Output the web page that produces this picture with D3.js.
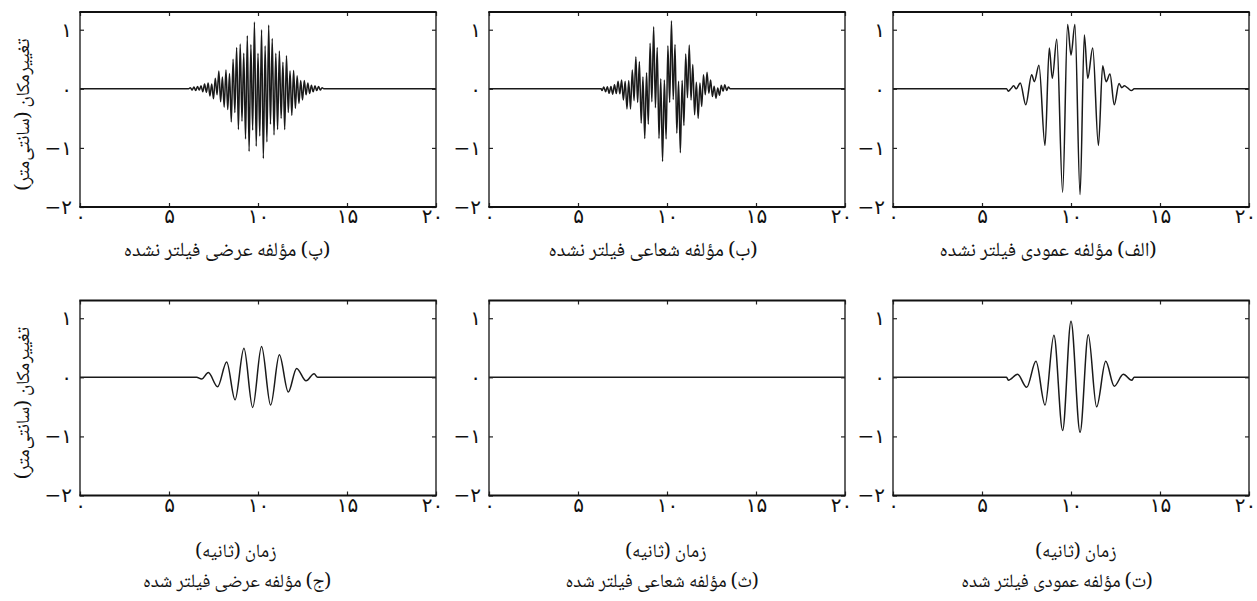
<!DOCTYPE html>
<html><head><meta charset="utf-8">
<script src="https://cdn.jsdelivr.net/npm/d3@7"></script>
<style>
body{margin:0;background:#fff;}
svg text{fill:#111;}
</style></head><body>
<svg id="c" width="1257" height="601"></svg>
<script>
// ---------- data ----------
const xTicks = [0, 5, 10, 15, 20];
const yTicks = [-2, -1, 0, 1];
const yLabel = "تغییرمکان (سانتی‌متر)";
const xLabel = "زمان (ثانیه)";
const titlesTop = ["(پ) مؤلفه عرضی فیلتر نشده", "(ب) مؤلفه شعاعی فیلتر نشده", "(الف) مؤلفه عمودی فیلتر نشده"];
const titlesBottom = ["(ج) مؤلفه عرضی فیلتر شده", "(ث) مؤلفه شعاعی فیلتر شده", "(ت) مؤلفه عمودی فیلتر شده"];

// (الف) vertical, unfiltered
const alefT = [0, 6.38, 6.48, 6.62, 6.78, 6.92, 7.15, 7.46, 7.79, 7.94, 8.2, 8.54, 8.78, 8.95, 9.2, 9.53, 9.81, 10.0, 10.22, 10.51, 10.75, 10.94, 11.22, 11.54, 11.78, 11.97, 12.19, 12.43, 12.7, 12.85, 13.0, 13.2, 13.4, 13.55, 20];
const alefV = [0, 0, -0.04, 0.0, 0.05, 0.0, 0.1, -0.27, 0.24, 0.12, 0.4, -0.96, 0.69, 0.18, 0.84, -1.75, 1.09, 0.57, 1.09, -1.79, 0.91, 0.18, 0.69, -0.96, 0.39, 0.12, 0.25, -0.27, 0.09, 0.02, 0.05, 0.01, -0.03, 0, 0];

// (ب) radial, unfiltered
const beT = [0, 6.3, 6.35, 6.45, 6.55, 6.65, 6.75, 6.85, 6.95, 7.05, 7.15, 7.25, 7.35, 7.45, 7.55, 7.65, 7.75, 7.85, 7.95, 8.05, 8.15, 8.25, 8.35, 8.45, 8.55, 8.65, 8.75, 8.85, 8.95, 9.05, 9.15, 9.25, 9.35, 9.45, 9.55, 9.65, 9.75, 9.85, 9.95, 10.05, 10.15, 10.25, 10.35, 10.45, 10.55, 10.65, 10.75, 10.85, 10.95, 11.05, 11.15, 11.25, 11.35, 11.45, 11.55, 11.65, 11.75, 11.85, 11.95, 12.05, 12.15, 12.25, 12.35, 12.45, 12.55, 12.65, 12.75, 12.85, 12.95, 13.05, 13.15, 13.25, 13.35, 13.45, 13.55, 20];
const beV = [0, 0, -0.03, 0.03, -0.05, 0.035, -0.075, 0.04, -0.09, 0.07, -0.08, 0.13, -0.085, 0.15, -0.19, 0.13, -0.34, 0.14, -0.34, 0.32, -0.2, 0.54, -0.23, 0.46, -0.58, 0.2, -0.84, 0.27, -0.6, 0.77, -0.22, 1.05, -0.32, 0.7, -0.84, 0.17, -1.23, 0.15, -0.85, 0.73, -0.23, 1.15, -0.18, 0.75, -0.75, 0.13, -1.08, 0.14, -0.62, 0.59, -0.15, 0.74, -0.19, 0.41, -0.44, 0.11, -0.5, 0.1, -0.3, 0.24, -0.1, 0.28, -0.075, 0.15, -0.13, 0.045, -0.16, 0.015, -0.11, 0.06, -0.04, 0.07, -0.03, 0.03, 0, 0];

// (پ) transverse, unfiltered
const peT = [0, 6.1, 6.2, 6.3, 6.4, 6.5, 6.6, 6.7, 6.8, 6.9, 7.0, 7.1, 7.2, 7.3, 7.4, 7.5, 7.6, 7.7, 7.8, 7.9, 8.0, 8.1, 8.2, 8.3, 8.4, 8.5, 8.6, 8.7, 8.8, 8.9, 9.0, 9.1, 9.2, 9.3, 9.4, 9.5, 9.6, 9.7, 9.8, 9.9, 10.0, 10.1, 10.2, 10.3, 10.4, 10.5, 10.6, 10.7, 10.8, 10.9, 11.0, 11.1, 11.2, 11.3, 11.4, 11.5, 11.6, 11.7, 11.8, 11.9, 12.0, 12.1, 12.2, 12.3, 12.4, 12.5, 12.6, 12.7, 12.8, 12.9, 13.0, 13.1, 13.2, 13.3, 13.4, 13.5, 13.6, 13.7, 20];
const peV = [0, 0, 0.02, -0.02, 0.03, -0.03, 0.04, -0.02, 0.05, -0.05, 0.08, -0.06, 0.1, -0.12, 0.08, -0.17, 0.18, -0.1, 0.3, -0.22, 0.2, -0.31, 0.32, -0.35, 0.26, -0.56, 0.5, -0.4, 0.7, -0.69, 0.76, -0.55, 0.6, -0.85, 0.9, -1.06, 0.75, -0.7, 1.13, -0.97, 0.6, -0.8, 1.0, -1.18, 0.73, -0.9, 1.08, -0.6, 0.85, -0.78, 0.6, -0.69, 0.64, -0.5, 0.45, -0.69, 0.56, -0.4, 0.3, -0.45, 0.31, -0.33, 0.22, -0.25, 0.14, -0.19, 0.14, -0.1, 0.1, -0.08, 0.06, -0.05, 0.05, -0.03, 0.04, -0.02, 0.02, 0, 0];

// (ت) vertical, filtered
const teT = [0, 6.38, 6.48, 7.0, 7.51, 8.03, 8.54, 9.04, 9.53, 10.0, 10.51, 10.97, 11.44, 11.95, 12.43, 12.94, 13.41, 13.55, 20];
const teV = [0, 0, -0.05, 0.05, -0.17, 0.27, -0.47, 0.71, -0.9, 0.95, -0.93, 0.72, -0.5, 0.27, -0.15, 0.05, -0.05, 0, 0];

// (ث) radial, filtered
const seT = [0, 20];
const seV = [0, 0];

// (ج) transverse, filtered
const jimT = [0, 6.55, 6.83, 7.21, 7.73, 8.24, 8.71, 9.21, 9.7, 10.2, 10.71, 11.2, 11.7, 12.17, 12.7, 13.15, 13.35, 20];
const jimV = [0, 0, -0.03, 0.08, -0.16, 0.26, -0.38, 0.49, -0.51, 0.52, -0.47, 0.38, -0.25, 0.15, -0.06, 0.06, 0, 0];

// ---------- layout ----------
const colX = [80, 489, 893];
const plotW = 356;
const rowTop = [12, 300.5];
const plotH = 195;
const titleX = [[227, 653, 1048], [237, 662, 1057]];
const xLabelX = [236, 666, 1076];
const TEXT_FONT = "'Noto Naskh Arabic','Noto Sans Arabic','DejaVu Sans',serif";
const TICK_FONT = "'DejaVu Sans',sans-serif";

const panels = [
  {row:0, col:0, t:peT, v:peV, title:titlesTop[0]},
  {row:0, col:1, t:beT, v:beV, title:titlesTop[1]},
  {row:0, col:2, t:alefT, v:alefV, title:titlesTop[2]},
  {row:1, col:0, t:jimT, v:jimV, title:titlesBottom[0]},
  {row:1, col:1, t:seT, v:seV, title:titlesBottom[1]},
  {row:1, col:2, t:teT, v:teV, title:titlesBottom[2]},
];

const fa = d => (d < 0 ? "\u2212" : "") + String(Math.abs(d)).replace(/\d/g, c => "۰۱۲۳۴۵۶۷۸۹"[+c]);

const svg = d3.select("#c");

panels.forEach(p => {
  const x0 = colX[p.col], y0 = rowTop[p.row];
  const x = d3.scaleLinear().domain([0, 20]).range([0, plotW]);
  const y = d3.scaleLinear().domain([-2, 1.3]).range([plotH, 0]);
  const g = svg.append("g").attr("transform", `translate(${x0},${y0})`);

  const pts = p.t.map((t, i) => [t, p.v[i]]);
  const line = d3.line().x(d => x(d[0])).y(d => y(d[1])).curve(d3.curveMonotoneX);
  g.append("path").datum(pts).attr("d", line)
    .attr("fill", "none").attr("stroke", "#1a1a1a").attr("stroke-width", 1.5)
    .attr("stroke-linejoin", "round");

  const styleAxis = sel => {
    sel.select(".domain").remove();
    sel.selectAll(".tick line").attr("stroke", "#222").attr("stroke-width", 1.2);
    sel.selectAll("text").attr("font-size", 20).attr("fill", "#111").style("font-family", TICK_FONT);
  };
  const bx = g.append("g").attr("transform", `translate(0,${plotH})`)
    .call(d3.axisBottom(x).tickValues(xTicks).tickFormat(fa).tickSizeInner(-4).tickSizeOuter(0).tickPadding(2))
    .call(styleAxis);
  bx.selectAll(".tick text").filter(d => d === 20).attr("dx", -4);
  g.append("g")
    .call(d3.axisTop(x).tickValues(xTicks).tickFormat("").tickSizeInner(-4).tickSizeOuter(0))
    .call(styleAxis);
  g.append("g")
    .call(d3.axisLeft(y).tickValues(yTicks).tickFormat(fa).tickSizeInner(-4).tickSizeOuter(0).tickPadding(8))
    .call(styleAxis);
  g.append("g").attr("transform", `translate(${plotW},0)`)
    .call(d3.axisRight(y).tickValues(yTicks).tickFormat("").tickSizeInner(-4).tickSizeOuter(0))
    .call(styleAxis);

  // frame
  g.append("line").attr("x1", 0).attr("x2", 0).attr("y1", 0).attr("y2", plotH).attr("stroke", "#222").attr("stroke-width", 1.4);
  g.append("line").attr("x1", plotW).attr("x2", plotW).attr("y1", 0).attr("y2", plotH).attr("stroke", "#222").attr("stroke-width", 1.4);
  g.append("line").attr("x1", -0.7).attr("x2", plotW + 0.7).attr("y1", 0).attr("y2", 0).attr("stroke", "#111").attr("stroke-width", 2.2);
  g.append("line").attr("x1", -0.7).attr("x2", plotW + 0.7).attr("y1", plotH).attr("y2", plotH).attr("stroke", "#111").attr("stroke-width", 2.2);

  // caption
  const capY = p.row === 0 ? 256 : 587;
  const capSize = p.row === 0 ? 20 : 19;
  svg.append("text").attr("x", titleX[p.row][p.col]).attr("y", capY)
    .attr("text-anchor", "middle").attr("direction", "rtl").style("direction", "rtl")
    .style("font-family", TEXT_FONT).attr("font-size", capSize).text(p.title);

  if (p.row === 1) {
    svg.append("text").attr("x", xLabelX[p.col]).attr("y", 557)
      .attr("text-anchor", "middle").attr("direction", "rtl").style("direction", "rtl")
      .style("font-family", TEXT_FONT).attr("font-size", 19).text(xLabel);
  }
  if (p.col === 0) {
    const cy = y0 + plotH / 2 + 5;
    svg.append("text").attr("transform", `translate(29,${cy}) rotate(-90)`)
      .attr("text-anchor", "middle").attr("direction", "rtl").style("direction", "rtl")
      .style("font-family", TEXT_FONT).attr("font-size", 19).text(yLabel);
  }
});
</script>
</body></html>
